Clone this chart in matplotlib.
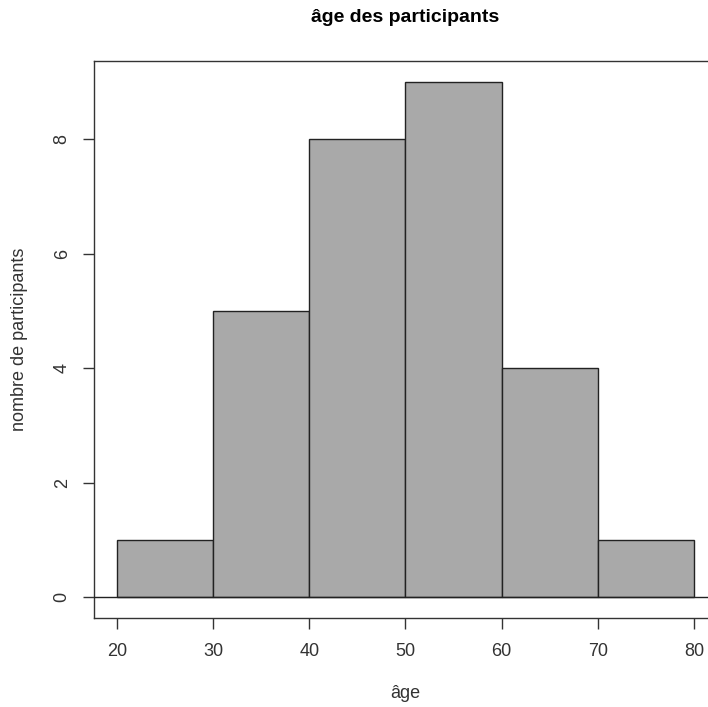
import matplotlib
matplotlib.use('Agg')
from matplotlib import pyplot as plt

# histogram data
bin_edges = [20, 30, 40, 50, 60, 70, 80]
counts = [1, 5, 8, 9, 4, 1]
x_ticks = [20, 30, 40, 50, 60, 70, 80]
y_ticks = [0, 2, 4, 6, 8]

plt.rcParams['font.family'] = ['Liberation Sans', 'DejaVu Sans']

W, H = 708, 707
fig = plt.figure(figsize=(W / 100, H / 100), dpi=100)
# plot box in pixels: left 94, right 717 (cut off), top 61, bottom 618
L, R, T, B = 94, 717, 61, 618
ax = fig.add_axes([L / W, (H - B) / H, (R - L) / W, (B - T) / H])

ax.bar(bin_edges[:-1], counts, width=10, align='edge',
       color='#a9a9a9', edgecolor='#222222', linewidth=1.0, zorder=2)
ax.axhline(0, color='#222222', linewidth=1.0, zorder=3)

ax.set_xlim(20 - 60 * 0.04, 80 + 60 * 0.04)
ax.set_ylim(0 - 9 * 0.04, 9 + 9 * 0.04)
ax.set_xticks(x_ticks)
ax.set_yticks(y_ticks)
ax.set_yticklabels([str(v) for v in y_ticks], rotation=90, va='center')

for s in ax.spines.values():
    s.set_color('#333333')
    s.set_linewidth(1.0)
ax.tick_params(axis='both', length=7.8, width=1.0, color='#333333',
               labelsize=13, labelcolor='#333333')
ax.tick_params(axis='x', pad=10)
ax.tick_params(axis='y', pad=9)

ax.set_xlabel('âge', fontsize=13, color='#333333', va='center')
ax.xaxis.set_label_coords(0.5, (B - 693) / (B - T))
ax.set_ylabel('nombre de participants', fontsize=13, color='#333333', va='center')
ax.yaxis.set_label_coords((20 - L) / (R - L), 0.5)
fig.text((L + R) / 2 / W, 1 - 18 / H, 'âge des participants', fontsize=14,
         fontweight='bold', ha='center', va='center')

fig.savefig('out.png', dpi=100)
